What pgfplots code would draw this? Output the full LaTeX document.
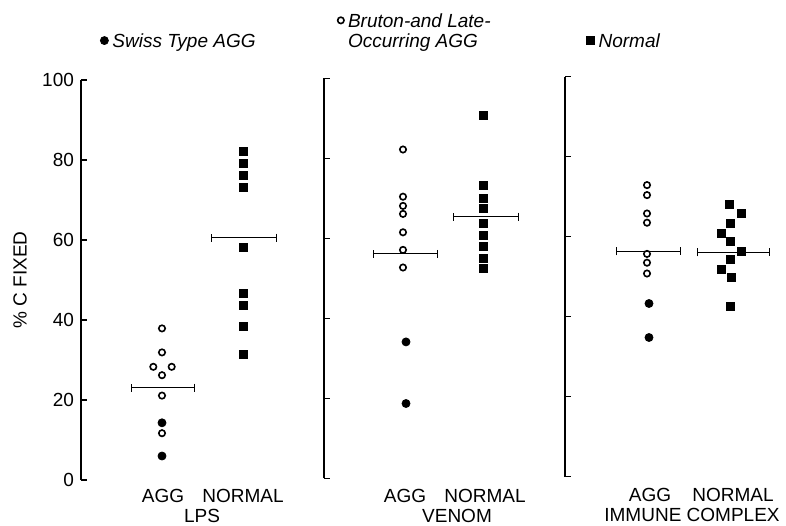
\documentclass[border=0pt]{standalone}
\usepackage{pgfplots}
\pgfplotsset{compat=1.18}
\usepackage{fontspec}
\setmainfont{Liberation Sans}
\usetikzlibrary{arrows.meta}

\pgfplotsset{
  panel/.style={
    scale only axis, width=115pt, height=200pt,
    xmin=0, xmax=230, ymin=0, ymax=100,
    axis x line=none, axis y line=left,
    y axis line style={-, line width=0.6pt},
    ytick={0,20,...,100}, tick align=inside, major tick length=3pt,
    major tick style={line width=0.6pt, black},
    clip=false,
    /pgf/number format/assume math mode=true,
    yticklabel style={font=\fontsize{9.5}{11}\selectfont},
  },
  swiss/.style={only marks, mark=*, mark size=2pt, black},
  bruton/.style={only marks, mark=o, mark size=1.6pt, black, mark options={line width=0.8pt}},
  normpts/.style={only marks, mark=square*, mark size=2pt, black},
  meanbar/.style={black, line width=0.6pt, {Bar[width=4pt]}-{Bar[width=4pt]}},
  key raised/.style={legend image code/.code={\draw[##1, yshift=#1] plot coordinates {(0pt,0pt)};}},
}
\tikzset{grp/.style={font=\fontsize{9.5}{11}\selectfont}}

\begin{document}
\begin{tikzpicture}
\path[use as bounding box] (0pt,0pt) rectangle (393pt,262.5pt);

% LPS
\begin{axis}[panel, at={(40.5pt,22.5pt)}, anchor=south west,
  ylabel={\% C FIXED},
  ylabel style={at={(axis description cs:-0.265,0.5)}, anchor=center, font=\fontsize{9.5}{11}\selectfont},
  legend columns=3,
  key raised=3.4pt,
  legend style={draw=none, fill=none, inner sep=0pt,
    at={(axis cs:19,112)}, anchor=west,
    cells={anchor=base west},
    font=\fontsize{9.5}{11}\selectfont\itshape,
    /tikz/column 2/.style={column sep=39pt},
    /tikz/column 4/.style={column sep=46pt}},
]
\addplot[swiss] coordinates {(81,14.3) (81,6)};
\addlegendentry{Swiss Type AGG}
\addplot[bruton, key raised=13.5pt]
  coordinates {(81,37.9) (81,31.9) (72.3,28.3) (90.7,28.3) (81,26.2) (81,21.1) (81,11.7)};
\addlegendentry{\shortstack[l]{Bruton-and Late-\\Occurring AGG}}
\addplot[normpts] coordinates {(162,82.1) (162,79.2) (162,76.2) (162,73.1) (162,58.1) (162,46.7) (162,43.7) (162,38.3) (162,31.5)};
\addlegendentry{Normal}
\addplot[meanbar, forget plot] coordinates {(50,23.1) (114,23.1)};
\addplot[meanbar, forget plot] coordinates {(130,60.6) (196,60.6)};
\node[grp] at (axis cs:82,-4) {AGG};
\node[grp] at (axis cs:162,-4) {NORMAL};
\node[grp] at (axis cs:121,-9.0) {LPS};
\end{axis}

% VENOM
\begin{axis}[panel, at={(162pt,23.35pt)}, anchor=south west, yticklabels={}]
\addplot[swiss] coordinates {(82,34.1) (82,18.7)};
\addplot[bruton] coordinates {(79,82.2) (79,70.4) (79,68.1) (79,66.1) (79,61.5) (79,57.1) (79,52.7)};
\addplot[normpts] coordinates {(159,90.6) (159,73.1) (159,70.0) (159,67.5) (159,63.7) (159,60.8) (159,57.9) (159,55.0) (159,52.5)};
\addplot[meanbar] coordinates {(49,56.1) (114,56.1)};
\addplot[meanbar] coordinates {(129,65.4) (195,65.4)};
\node[grp] at (axis cs:81,-4.4) {AGG};
\node[grp] at (axis cs:161,-4.4) {NORMAL};
\node[grp] at (axis cs:133,-9.5) {VENOM};
\end{axis}

% IMMUNE COMPLEX
\begin{axis}[panel, at={(282.5pt,24.15pt)}, anchor=south west, yticklabels={}]
\addplot[swiss] coordinates {(84,43.3) (84,34.8)};
\addplot[bruton] coordinates {(82,72.9) (82,70.4) (82,65.8) (82,63.5) (82,55.7) (82,53.5) (82,50.8)};
\addplot[normpts] coordinates {(164,68.1) (176,65.7) (165,63.3) (156,60.8) (165,58.7) (176,56.4) (165,54.3) (156,51.9) (166,49.7) (165,42.5)};
\addplot[meanbar] coordinates {(51,56.3) (116,56.3)};
\addplot[meanbar] coordinates {(132,56.1) (205,56.1)};
\node[grp] at (axis cs:85,-4.6) {AGG};
\node[grp] at (axis cs:168,-4.6) {NORMAL};
\node[grp] at (axis cs:127,-9.5) {IMMUNE COMPLEX};
\end{axis}
\end{tikzpicture}
\end{document}
